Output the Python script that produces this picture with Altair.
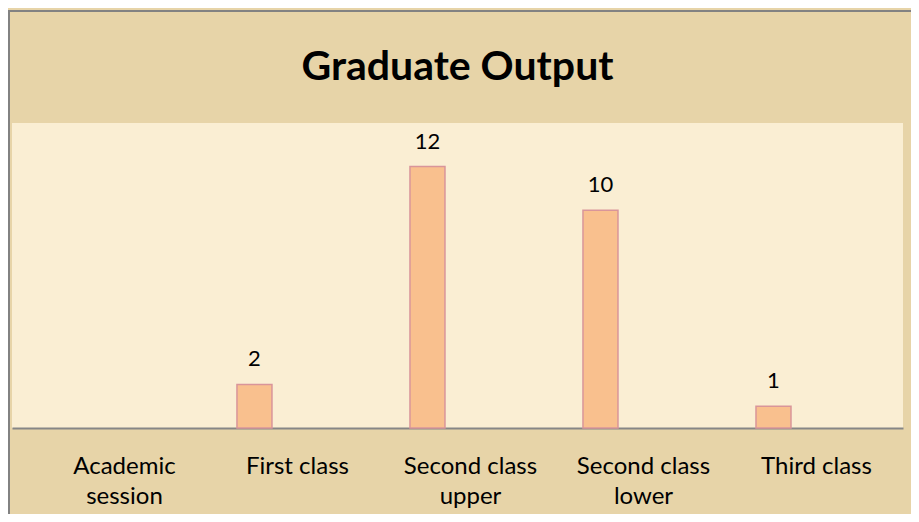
import altair as alt
import pandas as pd

# ---- data ----
categories = ["Academic session", "First class", "Second class upper",
              "Second class lower", "Third class"]
graduates = [None, 2, 12, 10, 1]

df = pd.DataFrame({"category": categories, "graduates": graduates})
frame_df = pd.DataFrame({"k": [0]})

W, H = 891, 305
FONT = "Lato"

label_expr = (
    "length(datum.label) > 12 ? "
    "[substring(datum.label, 0, lastindexof(datum.label, ' ')), "
    "substring(datum.label, lastindexof(datum.label, ' ') + 1)] : datum.label"
)

x = alt.X(
    "category:N",
    sort=categories,
    scale=alt.Scale(domain=categories, paddingInner=0, paddingOuter=0.075, align=1),
    axis=alt.Axis(
        title=None, ticks=False, labelAngle=0, labelFont=FONT, labelFontSize=24,
        labelColor="#000000", labelPadding=26, labelLineHeight=30,
        labelBaseline="top", domainColor="#868686", domainWidth=2, grid=False,
        labelExpr=label_expr,
    ),
)
y = alt.Y("graduates:Q", scale=alt.Scale(domain=[0, 14], nice=False, zero=True), axis=None)

frame = alt.Chart(frame_df).mark_rect(
    fill="transparent", stroke="#828282", strokeWidth=2
).encode(
    x=alt.value(-3), x2=alt.value(W + 40), y=alt.value(-112), y2=alt.value(H + 120)
)

bars = alt.Chart(df).mark_bar(
    width=35, xOffset=-43, fill="#F9C08E", stroke="#D9959A", strokeWidth=1.5
).encode(x=x, y=y)

labels = alt.Chart(df).mark_text(
    xOffset=-43, dy=-18, baseline="alphabetic", font=FONT, fontSize=22, color="#000000"
).encode(x=x, y=y, text="graduates:Q")

chart = alt.layer(frame, bars, labels).properties(
    width=W,
    height=H,
    autosize=alt.AutoSizeParams(type="none"),
    padding={"left": 4, "top": 115, "right": 8, "bottom": 86},
    background="#E7D4A8",
    title=alt.TitleParams(
        text="Graduate Output", font=FONT, fontSize=41, fontWeight="bold",
        color="#000000", anchor="middle", frame="group", baseline="alphabetic",
        offset=0, dy=111,
    ),
).configure_view(fill="#FAEED3", stroke=None)

chart.save("out.html", embed_options={"renderer": "svg", "actions": False})
